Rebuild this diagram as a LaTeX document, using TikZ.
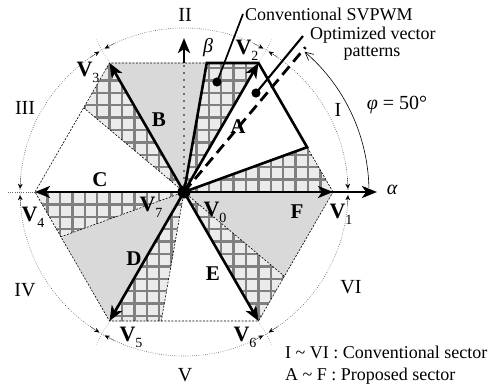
\documentclass[tikz,border=0pt]{standalone}
\usepackage{fontspec}
\setmainfont{Liberation Serif}
\usetikzlibrary{arrows.meta}
\begin{document}
\begin{tikzpicture}[x=1pt,y=1pt,
  txt/.style={font=\fontsize{18}{20}\selectfont, inner sep=0pt},
  roman/.style={font=\fontsize{20}{22}\selectfont, inner sep=0pt},
  seclbl/.style={font=\fontsize{21}{22}\selectfont\bfseries, inner sep=0pt},
  vlbl/.style={font=\fontsize{22}{22}\selectfont, inner sep=0pt},
  grayreg/.style={fill=black!15},
  gridbg/.style={fill=black!8},
  gridln/.style={draw=black!50, line width=2.4pt},
  hexedge/.style={draw=black, line width=0.6pt, dash pattern=on 2pt off 1.5pt},
  circ/.style={draw=black!70, line width=0.6pt, dash pattern=on 0.6pt off 1.6pt},
  radial/.style={draw=black!60, line width=0.5pt, dash pattern=on 0.6pt off 1.6pt},
  betadot/.style={draw=black, line width=1.6pt, line cap=round, dash pattern=on 0pt off 7pt},
  mini/.style={draw=black, line width=0.2pt, -{Stealth[length=5pt,width=4.5pt]}},
  thickln/.style={draw=black, line width=2.6pt, line join=miter},
  vec/.style={draw=black, line width=2.6pt, -{Stealth[length=15pt,width=12pt,inset=4pt]}},
  dashln/.style={draw=black, line width=2.8pt, dash pattern=on 11pt off 6pt},
  ptr/.style={draw=black, line width=1.7pt},
]
\useasboundingbox (-184,-196) rectangle (306,192);
\coordinate (O) at (0,0);
\foreach \i/\a in {1/0,2/60,3/120,4/180,5/240,6/300} \coordinate (V\i) at (\a:149);
\foreach \i/\a in {1/20,2/80,3/140,4/200,5/260,6/320} \coordinate (P\i) at (\a:131);
% gray regions
\fill[grayreg] (O) -- (P2) -- (V3) -- cycle;
\fill[grayreg] (O) -- (P4) -- (V5) -- cycle;
\fill[grayreg] (O) -- (P6) -- (V1) -- cycle;
% grid regions
\foreach \v/\p in {V2/P2, V3/P3, V4/P4, V5/P5, V6/P6, V1/P1} {
  \begin{scope}
    \clip (O) -- (\v) -- (\p) -- cycle;
    \fill[gridbg] (-200,-200) rectangle (200,200);
    \draw[gridln] (-198.4,-198.4) grid[step=12.4pt] (198.4,198.4);
  \end{scope}
}
% circle, hexagon, boundaries
\draw[circ] (O) circle[radius=164];
\draw[hexedge] (V1) -- (V2) -- (V3) -- (V4) -- (V5) -- (V6) -- cycle;
\foreach \p in {P3,P4,P5,P6} \draw[hexedge] (O) -- (\p);
\coordinate (Btop) at (0,129);
\coordinate (Bend) at (0,154);
\draw[betadot] (O) -- (Btop);
\foreach \a in {0,60,...,300} {
  \coordinate (R1) at (\a:149);
  \coordinate (R2) at (\a:177);
  \draw[radial] (R1) -- (R2);
  \coordinate (M1) at (\a+5:164);
  \coordinate (M2) at (\a+1.1:164);
  \coordinate (M3) at (\a-5:164);
  \coordinate (M4) at (\a-1.1:164);
  \draw[mini] (M1) -- (M2);
  \draw[mini] (M3) -- (M4);
}
% sector A border
\draw[thickln] (O) -- (P2) -- (V2) -- (P1) -- cycle;
% axes
\coordinate (Aend) at (193,0);
\draw[vec] (O) -- (Aend);
\draw[vec] (Btop) -- (Bend);
% vectors
\foreach \i in {1,...,6} \draw[vec] (O) -- (V\i);
% phi line
\coordinate (Phi) at (50:189);
\draw[dashln] (O) -- (Phi);
\coordinate (Arc0) at (1.3:185);
\draw[draw=black, line width=0.6pt, -{Straight Barb[length=8pt,width=8pt,line width=0.6pt]}] (Arc0) arc[start angle=1.3, end angle=49.3, radius=185];
% pointers
\coordinate (C1) at (33,110);
\coordinate (C2) at (59,178);
\coordinate (D1) at (72,99);
\coordinate (D2) at (119,156);
\draw[ptr] (C1) -- (C2);
\draw[ptr, line width=2.1pt] (D1) -- (D2);
\fill (C1) circle[radius=4.6];
\fill (D1) circle[radius=4.6];
\fill (O) circle[radius=6.5];
% labels
\node[roman] (nI) at (154,82) {I};
\node[roman] (nII) at (1,177) {II};
\node[roman] (nIII) at (-159,84) {III};
\node[roman] (nIV) at (-159,-98) {IV};
\node[roman] (nV) at (1,-183) {V};
\node[roman] (nVI) at (167,-95) {VI};
\node[seclbl] (sA) at (54,65) {A};
\node[seclbl] (sB) at (-25,72) {B};
\node[seclbl] (sC) at (-84,12) {C};
\node[seclbl] (sD) at (-50,-67) {D};
\node[seclbl] (sE) at (29,-82) {E};
\node[seclbl] (sF) at (113,-20) {F};
\newcommand{\vname}[1]{\textbf{V}\raisebox{-6pt}{\fontsize{14}{14}\selectfont #1}}
\node[vlbl] (l1) at (157,-22) {\vname{1}};
\node[vlbl] (l2) at (63,142) {\vname{2}};
\node[vlbl] (l3) at (-96,120) {\vname{3}};
\node[vlbl] (l4) at (-151,-25) {\vname{4}};
\node[vlbl] (l5) at (-53,-145) {\vname{5}};
\node[vlbl] (l6) at (61,-145) {\vname{6}};
\node[vlbl] (l7) at (-33,-15) {\vname{7}};
\node[vlbl] (l0) at (31,-20) {\vname{0}};
\node[roman] (alpha) at (208,2) {\itshape α};
\node[roman] (beta) at (24,144) {\itshape β};
\node[roman] (phi) at (213,87) {{\itshape φ} = 50°};
\node[txt, anchor=base west] (conv) at (61,171) {Conventional SVPWM};
\node[txt, anchor=base west] (opt1) at (126,152) {Optimized vector};
\node[txt, anchor=base] (opt2) at (188,135.5) {patterns};
\node[txt, anchor=base west] (leg1) at (101,-166) {I \textasciitilde{} VI : Conventional sector};
\node[txt, anchor=base west] (leg2) at (101,-188) {A \textasciitilde{} F : Proposed sector};
\end{tikzpicture}
\end{document}
